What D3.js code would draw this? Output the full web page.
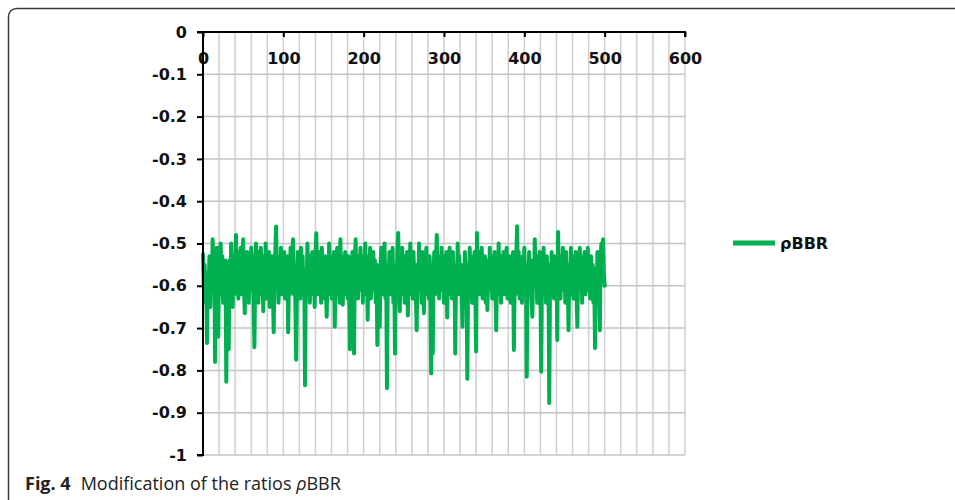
<!DOCTYPE html>
<html><head><meta charset="utf-8">
<script src="https://cdn.jsdelivr.net/npm/d3@7"></script>
<style>body{margin:0;background:#fff}svg{display:block}</style>
</head><body>
<svg id="c" width="955" height="500"></svg>
<script>
const seriesName = "ρBBR";
const xTicks = [0,100,200,300,400,500,600];
const yTicks = [0,-0.1,-0.2,-0.3,-0.4,-0.5,-0.6,-0.7,-0.8,-0.9,-1];
const yTickLabels = ["0","-0.1","-0.2","-0.3","-0.4","-0.5","-0.6","-0.7","-0.8","-0.9","-1"];
const rhoBBR = [
-0.525,-0.60,-0.55,-0.64,-0.57,-0.735,-0.58,-0.62,-0.53,-0.65,-0.55,-0.61,-0.49,-0.59,-0.51,-0.78,-0.57,-0.63,-0.51,-0.72,
-0.52,-0.62,-0.50,-0.60,-0.53,-0.64,-0.55,-0.62,-0.54,-0.827,-0.58,-0.61,-0.75,-0.54,-0.63,-0.50,-0.60,-0.65,-0.53,-0.62,
-0.55,-0.48,-0.59,-0.52,-0.63,-0.54,-0.61,-0.51,-0.62,-0.55,-0.49,-0.60,-0.665,-0.53,-0.62,-0.52,-0.59,-0.64,-0.54,-0.61,
-0.51,-0.60,-0.53,-0.63,-0.745,-0.56,-0.50,-0.61,-0.54,-0.64,-0.52,-0.59,-0.51,-0.62,-0.55,-0.66,-0.53,-0.60,-0.50,-0.63,
-0.54,-0.61,-0.52,-0.65,-0.56,-0.62,-0.53,-0.60,-0.71,-0.56,-0.52,-0.46,-0.59,-0.53,-0.64,-0.55,-0.61,-0.51,-0.62,-0.54,
-0.60,-0.52,-0.63,-0.55,-0.61,-0.53,-0.71,-0.58,-0.62,-0.51,-0.60,-0.54,-0.49,-0.62,-0.55,-0.64,-0.775,-0.59,-0.52,-0.62,
-0.54,-0.63,-0.51,-0.60,-0.53,-0.62,-0.56,-0.835,-0.57,-0.61,-0.50,-0.59,-0.53,-0.64,-0.55,-0.62,-0.52,-0.60,-0.54,-0.65,
-0.53,-0.476,-0.58,-0.62,-0.52,-0.61,-0.54,-0.64,-0.51,-0.59,-0.55,-0.63,-0.53,-0.60,-0.673,-0.55,-0.62,-0.50,-0.59,-0.53,
-0.63,-0.55,-0.61,-0.52,-0.697,-0.57,-0.62,-0.51,-0.60,-0.54,-0.64,-0.49,-0.59,-0.53,-0.645,-0.55,-0.62,-0.52,-0.60,-0.54,
-0.63,-0.53,-0.61,-0.75,-0.56,-0.62,-0.52,-0.59,-0.76,-0.55,-0.49,-0.60,-0.53,-0.63,-0.55,-0.61,-0.51,-0.59,-0.54,-0.64,
-0.53,-0.60,-0.50,-0.62,-0.55,-0.68,-0.53,-0.61,-0.51,-0.63,-0.56,-0.61,-0.52,-0.60,-0.54,-0.64,-0.55,-0.74,-0.56,-0.61,
-0.697,-0.55,-0.51,-0.62,-0.54,-0.60,-0.50,-0.63,-0.55,-0.842,-0.57,-0.61,-0.52,-0.62,-0.53,-0.59,-0.51,-0.64,-0.55,-0.76,
-0.56,-0.61,-0.52,-0.475,-0.59,-0.66,-0.53,-0.62,-0.51,-0.60,-0.55,-0.64,-0.53,-0.61,-0.52,-0.67,-0.56,-0.62,-0.50,-0.59,
-0.54,-0.63,-0.52,-0.60,-0.55,-0.62,-0.705,-0.55,-0.61,-0.50,-0.59,-0.54,-0.64,-0.52,-0.60,-0.665,-0.56,-0.62,-0.51,-0.60,
-0.54,-0.63,-0.53,-0.61,-0.807,-0.58,-0.76,-0.56,-0.52,-0.62,-0.54,-0.48,-0.59,-0.53,-0.63,-0.55,-0.61,-0.51,-0.60,-0.54,
-0.64,-0.53,-0.61,-0.52,-0.675,-0.56,-0.62,-0.51,-0.59,-0.54,-0.63,-0.52,-0.60,-0.55,-0.76,-0.56,-0.62,-0.50,-0.60,-0.53,
-0.62,-0.55,-0.61,-0.697,-0.56,-0.63,-0.52,-0.60,-0.55,-0.82,-0.58,-0.62,-0.51,-0.60,-0.53,-0.64,-0.55,-0.61,-0.52,-0.62,
-0.755,-0.475,-0.58,-0.52,-0.62,-0.54,-0.60,-0.51,-0.63,-0.55,-0.61,-0.53,-0.64,-0.54,-0.657,-0.56,-0.61,-0.51,-0.59,-0.53,
-0.63,-0.55,-0.61,-0.52,-0.60,-0.705,-0.56,-0.62,-0.50,-0.59,-0.53,-0.64,-0.55,-0.61,-0.52,-0.62,-0.54,-0.60,-0.51,-0.63,
-0.55,-0.61,-0.53,-0.64,-0.55,-0.60,-0.52,-0.752,-0.58,-0.62,-0.53,-0.459,-0.59,-0.52,-0.63,-0.54,-0.60,-0.64,-0.53,-0.61,
-0.51,-0.60,-0.55,-0.815,-0.58,-0.62,-0.52,-0.61,-0.54,-0.63,-0.673,-0.56,-0.60,-0.49,-0.59,-0.53,-0.64,-0.55,-0.61,-0.52,
-0.60,-0.803,-0.56,-0.62,-0.51,-0.60,-0.54,-0.64,-0.53,-0.61,-0.55,-0.877,-0.58,-0.62,-0.52,-0.60,-0.54,-0.63,-0.53,-0.61,
-0.55,-0.728,-0.473,-0.59,-0.53,-0.63,-0.55,-0.61,-0.51,-0.60,-0.54,-0.64,-0.52,-0.61,-0.55,-0.705,-0.56,-0.62,-0.51,-0.59,
-0.53,-0.63,-0.55,-0.61,-0.52,-0.62,-0.697,-0.56,-0.60,-0.51,-0.61,-0.54,-0.64,-0.53,-0.60,-0.52,-0.62,-0.55,-0.61,-0.51,
-0.60,-0.54,-0.63,-0.53,-0.61,-0.55,-0.64,-0.57,-0.747,-0.56,-0.62,-0.52,-0.60,-0.54,-0.705,-0.53,-0.50,-0.59,-0.49,-0.57,-0.60
];

const svg = d3.select("#c");
svg.append("rect").attr("width",955).attr("height",500).attr("fill","#fff");

// figure frame
svg.append("path").attr("d","M8.5,500 L8.5,16.5 A8,8 0 0 1 16.5,8.5 L955,8.5")
  .attr("fill","none").attr("stroke","#3a3a3a").attr("stroke-width",1.5);

const x = d3.scaleLinear().domain([0,600]).range([203,685]);
const y = d3.scaleLinear().domain([0,-1]).range([32,455]);

// grid
const g = svg.append("g");
g.selectAll("line.v").data(d3.range(20,601,20)).join("line")
  .attr("x1",d=>x(d)).attr("x2",d=>x(d)).attr("y1",y(0)).attr("y2",y(-1))
  .attr("stroke","#cfcfcf").attr("stroke-width",1.5);
g.selectAll("line.h").data(yTicks.slice(1,-1)).join("line")
  .attr("x1",x(0)).attr("x2",x(600)).attr("y1",d=>y(d)).attr("y2",d=>y(d))
  .attr("stroke","#c4c4c4").attr("stroke-width",1.5);
svg.append("line").attr("x1",x(0)).attr("x2",x(600)).attr("y1",y(-1)).attr("y2",y(-1))
  .attr("stroke","#c4c4c4").attr("stroke-width",1.5);

// series
const line = d3.line().x((d,i)=>x(i)).y(d=>y(d));
svg.append("path").datum(rhoBBR).attr("d",line).attr("fill","none")
  .attr("stroke","#00b050").attr("stroke-width",4).attr("stroke-linejoin","round").attr("stroke-linecap","round");

// top x axis (ticks pointing down into plot)
const xAxis = d3.axisBottom(x).tickValues(xTicks).tickSize(5).tickPadding(16).tickFormat(d3.format("d"));
const xa = svg.append("g").attr("transform",`translate(0,${y(0)})`).call(xAxis);
xa.select(".domain").attr("stroke","#000").attr("stroke-width",2).attr("d",`M${x(0)},0H${x(600)}V5`);
xa.selectAll(".tick line").attr("stroke","#000").attr("stroke-width",2);
xa.selectAll("text").attr("font-family","DejaVu Sans").attr("font-weight","bold").attr("font-size",16).attr("fill","#111");

// left y axis
const yAxis = d3.axisLeft(y).tickValues(yTicks).tickSize(6).tickPadding(10).tickFormat((d,i)=>yTickLabels[i]);
const ya = svg.append("g").attr("transform",`translate(${x(0)},0)`).call(yAxis);
ya.select(".domain").attr("stroke","#000").attr("stroke-width",2).attr("d",`M-6,${y(0)}H0V${y(-1)}H-6`);
ya.selectAll(".tick line").attr("stroke","#000").attr("stroke-width",2);
ya.selectAll("text").attr("font-family","DejaVu Sans").attr("font-weight","bold").attr("font-size",16).attr("fill","#111");

// legend
svg.append("line").attr("x1",733).attr("x2",775).attr("y1",243).attr("y2",243)
  .attr("stroke","#00b050").attr("stroke-width",5);
svg.append("text").attr("x",780).attr("y",249).text(seriesName)
  .attr("font-family","DejaVu Sans").attr("font-weight","bold").attr("font-size",16).attr("fill","#111");

// caption
const cap = svg.append("text").attr("x",25).attr("y",490)
  .attr("font-family","'Open Sans'").attr("font-size",18).attr("fill","#222");
cap.append("tspan").attr("font-weight","bold").text("Fig. 4");
cap.append("tspan").attr("dx",10).text("Modification of the ratios ");
cap.append("tspan").attr("font-style","italic").text("ρ");
cap.append("tspan").text("BBR");
</script>
</body></html>
